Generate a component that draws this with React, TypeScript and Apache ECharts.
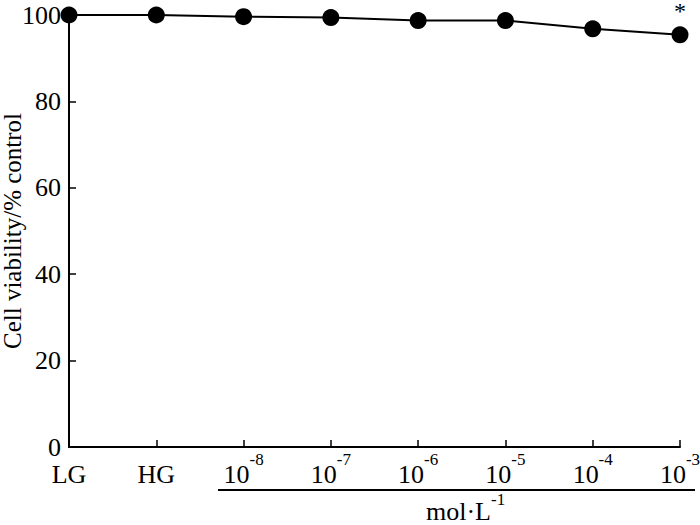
import React, { useEffect, useRef } from "react";
import * as echarts from "echarts";

const categories = ["LG", "HG", "10^-8", "10^-7", "10^-6", "10^-5", "10^-4", "10^-3"];
const viability = [100, 100, 99.6, 99.4, 98.7, 98.7, 96.8, 95.4];
const significant = [false, false, false, false, false, false, false, true];
const yTicks = { min: 0, max: 100, interval: 20 };
const yAxisTitle = "Cell viability/% control";
const unitBase = "mol·L";
const unitSup = "-1";

const FONT = "Liberation Serif";

export default function App() {
  const ref = useRef<HTMLDivElement>(null);
  useEffect(() => {
    if (!ref.current) return;
    const chart = echarts.init(ref.current, null, { renderer: "svg" });
    const option: any = {
      animation: false,
      backgroundColor: "#ffffff",
      textStyle: { fontFamily: FONT, color: "#000" },
      grid: { left: 69, right: 20, top: 15, bottom: 78, containLabel: false, outerBoundsMode: "none" },
      xAxis: {
        type: "category",
        data: categories,
        boundaryGap: false,
        axisLine: { lineStyle: { color: "#000", width: 2 } },
        axisTick: { inside: true, length: 7, lineStyle: { color: "#000", width: 1.5 } },
        axisLabel: {
          margin: 4,
          interval: 0,
          hideOverlap: false,
          formatter: (v: string) => {
            const parts = v.split("^");
            if (parts.length === 2) return `{b|${parts[0]}}{s|${parts[1]}}`;
            return `{b|${v}}`;
          },
          rich: {
            b: { fontFamily: FONT, fontSize: 26, lineHeight: 36, verticalAlign: "bottom", color: "#000" },
            s: { fontFamily: FONT, fontSize: 17, lineHeight: 17, verticalAlign: "top", color: "#000" },
          },
        },
      },
      yAxis: {
        type: "value",
        min: yTicks.min,
        max: yTicks.max,
        interval: yTicks.interval,
        name: yAxisTitle,
        nameLocation: "middle",
        nameGap: 44,
        nameMoveOverlap: false,
        nameRotate: 90,
        nameTextStyle: { fontFamily: FONT, fontSize: 25, color: "#000" },
        splitLine: { show: false },
        axisLine: { show: true, lineStyle: { color: "#000", width: 2 } },
        axisTick: { show: true, inside: true, length: 7, lineStyle: { color: "#000", width: 1.5 } },
        axisLabel: { fontFamily: FONT, fontSize: 26, color: "#000", margin: 8 },
      },
      series: [
        {
          type: "line",
          data: viability.map((v, i) =>
            significant[i]
              ? {
                  value: v,
                  label: {
                    show: true,
                    position: "top",
                    distance: 3,
                    formatter: "*",
                    fontFamily: FONT,
                    fontSize: 24,
                    color: "#000",
                  },
                }
              : v
          ),
          symbol: "circle",
          symbolSize: 17,
          itemStyle: { color: "#000" },
          lineStyle: { color: "#000", width: 2 },
        },
      ],
      graphic: [
        {
          type: "line",
          shape: { x1: 218, y1: 490, x2: 695, y2: 490 },
          style: { stroke: "#000", lineWidth: 2 },
        },
        {
          type: "text",
          x: 426,
          y: 491,
          style: {
            text: `{b|${unitBase}}{s|${unitSup}}`,
            rich: {
              b: { fontFamily: FONT, fontSize: 26, lineHeight: 33, verticalAlign: "bottom", fill: "#000" },
              s: { fontFamily: FONT, fontSize: 17, lineHeight: 17, verticalAlign: "top", fill: "#000" },
            },
          },
        },
      ],
    };
    chart.setOption(option);
    return () => chart.dispose();
  }, []);
  return <div ref={ref} style={{ width: 700, height: 525, position: "absolute", left: 0, top: 0 }} />;
}
